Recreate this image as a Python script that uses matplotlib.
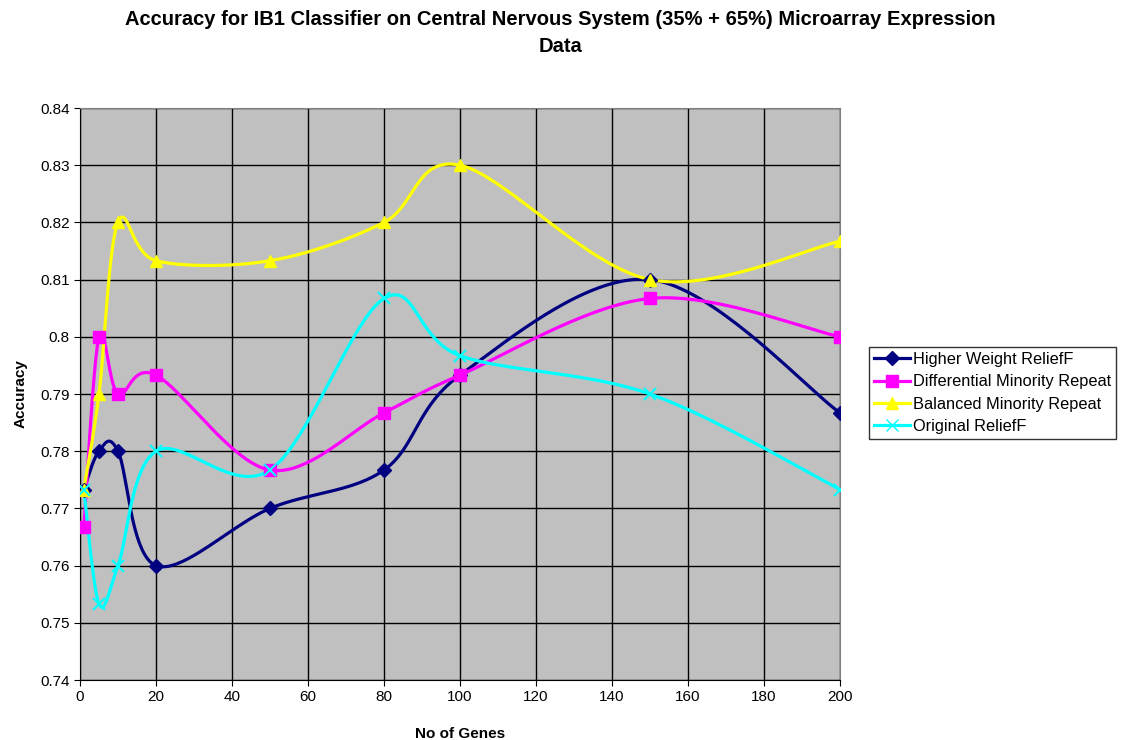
import numpy as np
import matplotlib
matplotlib.use("Agg")
import matplotlib.pyplot as plt

plt.rcParams['font.family'] = ['Liberation Sans', 'DejaVu Sans']

genes = [1, 5, 10, 20, 50, 80, 100, 150, 200]
higher_weight = [0.7733, 0.78, 0.78, 0.76, 0.77, 0.7767, 0.7933, 0.81, 0.7867]
diff_minority = [0.7667, 0.80, 0.79, 0.7933, 0.7767, 0.7867, 0.7933, 0.8067, 0.80]
bal_minority = [0.7733, 0.79, 0.82, 0.8133, 0.8133, 0.82, 0.83, 0.81, 0.8167]
original = [0.7733, 0.7533, 0.76, 0.78, 0.7767, 0.8067, 0.7967, 0.79, 0.7733]


def smooth(xs, ys, n=40):
    # catmull-rom style bezier, like excel's smoothed lines
    p = np.column_stack([xs, ys]).astype(float)
    pts = []
    for i in range(len(p) - 1):
        p0 = p[i - 1] if i > 0 else p[i]
        p1, p2 = p[i], p[i + 1]
        p3 = p[i + 2] if i + 2 < len(p) else p[i + 1]
        c1 = p1 + (p2 - p0) / 6
        c2 = p2 - (p3 - p1) / 6
        t = np.linspace(0, 1, n)[:, None]
        seg = (1 - t) ** 3 * p1 + 3 * (1 - t) ** 2 * t * c1 + 3 * (1 - t) * t ** 2 * c2 + t ** 3 * p2
        pts.append(seg if i == 0 else seg[1:])
    pts = np.vstack(pts)
    return pts[:, 0], pts[:, 1]


fig = plt.figure(figsize=(11.25, 7.4), dpi=100)
ax = fig.add_axes([80 / 1125, 60 / 740, 760 / 1125, 572 / 740])
ax.set_facecolor('#C0C0C0')

series = [
    ("Higher Weight ReliefF", higher_weight, '#000080', 'D', 7),
    ("Differential Minority Repeat", diff_minority, '#FF00FF', 's', 9),
    ("Balanced Minority Repeat", bal_minority, '#FFFF00', '^', 9),
    ("Original ReliefF", original, '#00FFFF', 'x', 9),
]

for name, vals, col, mk, ms in series:
    sx, sy = smooth(genes, vals)
    ax.plot(sx, sy, color=col, lw=2.3, zorder=3)
    ax.plot(genes, vals, linestyle='none', marker=mk, color=col, ms=ms,
            mew=1.5 if mk == 'x' else 1, zorder=4)
    ax.plot([], [], color=col, lw=2.3, marker=mk, ms=ms, label=name)

ax.set_xlim(0, 200)
ax.set_ylim(0.74, 0.84)
ax.set_xticks(np.arange(0, 201, 20))
ax.set_yticks(np.arange(0.74, 0.8401, 0.01))
ax.set_yticklabels(['0.74', '0.75', '0.76', '0.77', '0.78', '0.79', '0.8',
                    '0.81', '0.82', '0.83', '0.84'])
ax.grid(True, color='black', lw=1)
ax.set_axisbelow(True)
ax.tick_params(labelsize=11, length=4, direction='out')
for s in ['top', 'right']:
    ax.spines[s].set_color('#808080')
ax.spines['left'].set_color('black')
ax.spines['bottom'].set_color('black')

ax.set_xlabel("No of Genes", fontsize=11, fontweight='bold', labelpad=16)
ax.set_ylabel("Accuracy", fontsize=11, fontweight='bold', labelpad=9)
fig.suptitle("Accuracy for IB1 Classifier on Central Nervous System (35% + 65%) Microarray Expression\nData",
             x=560 / 1125, y=0.987, fontsize=14.5, fontweight='bold', linespacing=1.55)

leg = ax.legend(loc='center left', bbox_to_anchor=(869 / 760 - 80 / 760, (680 - 393) / 572),
                fontsize=11.8, frameon=True, fancybox=False, edgecolor='black',
                borderpad=0.3, labelspacing=0.45, handlelength=2.2, handletextpad=0.2,
                borderaxespad=0)
leg.get_frame().set_linewidth(1)

fig.savefig("out.png", dpi=100)
